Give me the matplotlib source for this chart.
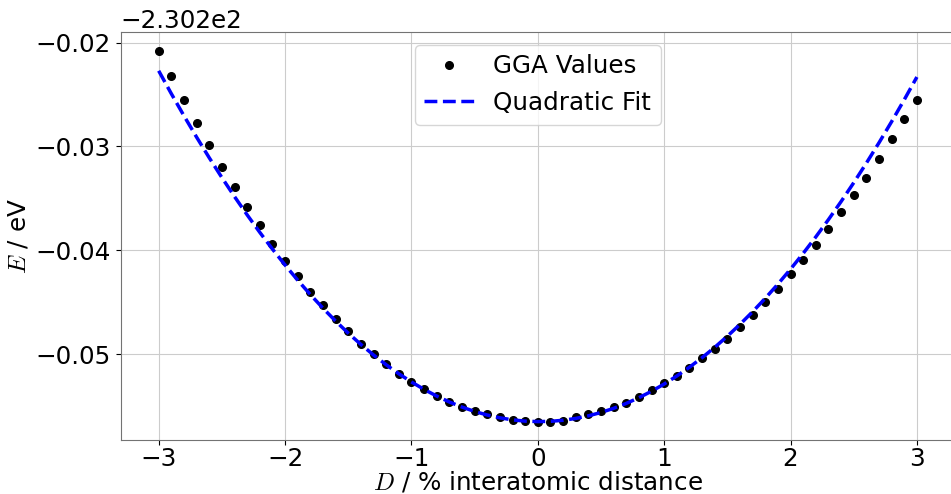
import numpy as np
import matplotlib
matplotlib.use("Agg")
import matplotlib.pyplot as plt
from matplotlib.ticker import MultipleLocator

plt.rcParams['mathtext.fontset'] = 'cm'

# strain in % of interatomic distance
D = np.round(np.arange(-30, 31) / 10.0, 1)

# GGA energies relative to -230.2 eV
base_E = -230.2
E_rel = [
    -0.0208, -0.0232, -0.0255, -0.0277, -0.0299, -0.0320, -0.0339, -0.0358,
    -0.0376, -0.0394, -0.0410, -0.0425, -0.0440, -0.0453, -0.0466, -0.0478,
    -0.0490, -0.0500, -0.0510, -0.0519, -0.0527, -0.0534, -0.0540, -0.0546,
    -0.0551, -0.0555, -0.0558, -0.0561, -0.0563, -0.0564, -0.0565,
    -0.0565, -0.0564, -0.0561, -0.0558, -0.0555, -0.0551, -0.0547, -0.0541,
    -0.0535, -0.0528, -0.0521, -0.0513, -0.0504, -0.0495, -0.0485, -0.0474,
    -0.0462, -0.0450, -0.0437, -0.0423, -0.0409, -0.0395, -0.0380, -0.0363,
    -0.0347, -0.0330, -0.0312, -0.0293, -0.0274, -0.0255,
]
E = base_E + np.array(E_rel)

# quadratic fit coefficients (a, b, c) relative to base
fit_coeffs = [0.00372, -0.0001, -0.0565]
E_fit = base_E + np.polyval(fit_coeffs, D)

fs = 17.7
fig = plt.figure(figsize=(9.51, 4.94), dpi=100)
ax = fig.add_axes([0.127, 0.109, 0.877, 0.8256])

ax.plot(D, E, 'ko', markersize=5.5, label='GGA Values')
ax.plot(D, E_fit, 'b--', linewidth=2.5, label='Quadratic Fit')

ax.yaxis.set_major_locator(MultipleLocator(0.01))
ax.grid(True, color='#cccccc', linewidth=0.8)
ax.set_axisbelow(True)
for s in ax.spines.values():
    s.set_color('0.45')

ax.set_xlabel(r'$D$ / % interatomic distance', fontsize=fs, labelpad=-1)
ax.set_ylabel(r'$E$ / eV', fontsize=fs)
ax.tick_params(labelsize=fs)
ax.tick_params(axis='x', pad=1.5)
ax.yaxis.get_offset_text().set_fontsize(fs)
ax.legend(loc='upper center', fontsize=fs)

fig.savefig('out.png', dpi=100)
